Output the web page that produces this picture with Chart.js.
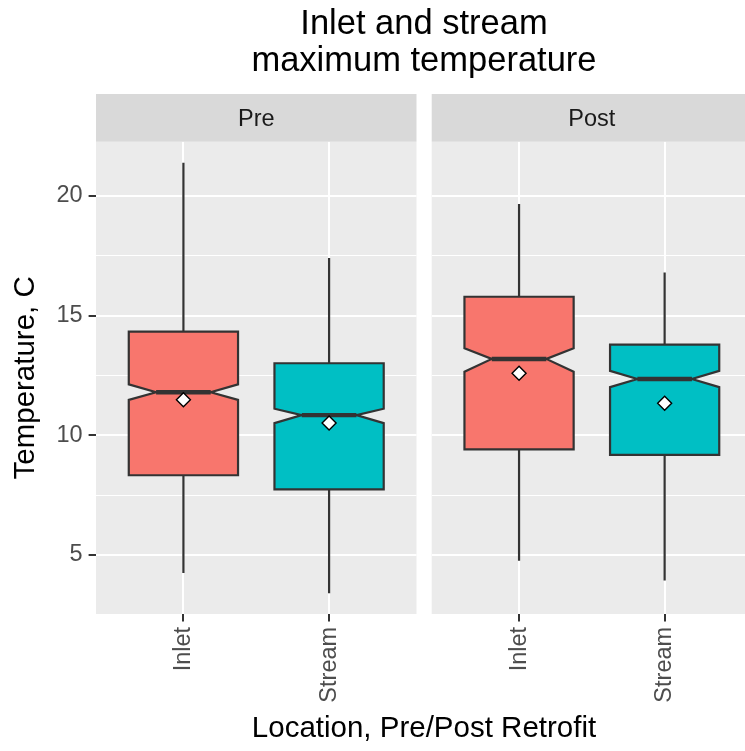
<!DOCTYPE html>
<html>
<head>
<meta charset="utf-8">
<title>Inlet and stream maximum temperature</title>
<script src="https://cdn.jsdelivr.net/npm/chart.js@4"></script>
<style>
  html, body { margin: 0; padding: 0; background: #fff; }
  #wrap { position: relative; width: 745px; height: 751px; overflow: hidden; font-family: 'Liberation Sans', Arial, sans-serif; }
  #title { position: absolute; left: 96px; width: 656px; top: 4px; text-align: center; font-size: 34.5px; line-height: 37px; color: #000; }
  #xtitle { position: absolute; left: 96px; width: 656px; top: 710px; text-align: center; font-size: 29.5px; line-height: 34px; color: #000; }
  canvas { position: absolute; top: 0; }
  #pre { left: 0; }
  #post { left: 424px; }
</style>
</head>
<body>
<div id="wrap">
  <canvas id="pre" width="424" height="751"></canvas>
  <canvas id="post" width="328" height="751"></canvas>
  <div id="title">Inlet and stream<br>maximum temperature</div>
  <div id="xtitle">Location, Pre/Post Retrofit</div>
</div>
<script>
const locations = ['Inlet', 'Stream'];
const facets = ['Pre', 'Post'];
const yMajorTicks = [5, 10, 15, 20];
const yMinorTicks = [7.5, 12.5, 17.5];

// box stats, each array is [Inlet, Stream]
const preMin = [4.24, 3.40];
const preQ1 = [8.33, 7.74];
const preMedian = [11.80, 10.84];
const preQ3 = [14.33, 13.01];
const preMax = [21.39, 17.41];
const preNotchLo = [11.48, 10.51];
const preNotchHi = [12.13, 11.11];
const preMean = [11.48, 10.51];

const postMin = [4.76, 3.93];
const postQ1 = [9.41, 9.18];
const postMedian = [13.19, 12.35];
const postQ3 = [15.79, 13.79];
const postMax = [19.67, 16.80];
const postNotchLo = [12.66, 12.01];
const postNotchHi = [13.64, 12.69];
const postMean = [12.59, 11.34];

const fillColors = ['#F8766D', '#00BFC4'];
const yMin = 2.53, yMax = 22.27;

Chart.defaults.font.family = "'Liberation Sans', Arial, sans-serif";
Chart.defaults.color = '#4D4D4D';

function boxPlugin(s) {
  return {
    id: 'notchedBoxes',
    beforeDraw(chart) {
      const { ctx, chartArea: a } = chart;
      ctx.save();
      ctx.fillStyle = '#EBEBEB';
      ctx.fillRect(a.left, a.top, a.right - a.left, a.bottom - a.top);
      ctx.restore();
    },
    beforeDatasetsDraw(chart) {
      const { ctx, scales: { x, y } } = chart;
      const py = v => y.getPixelForValue(v);
      ctx.save();
      ctx.strokeStyle = '#333333';
      ctx.lineJoin = 'miter';
      ctx.lineCap = 'butt';
      s.median.forEach((m, i) => {
        const cx = x.getPixelForValue(i + 1);
        const half = x.getPixelForValue(i + 1.375) - cx;
        const nh = half / 2;
        ctx.lineWidth = 2.2;
        // whiskers
        ctx.beginPath();
        ctx.moveTo(cx, py(s.max[i]));
        ctx.lineTo(cx, py(s.q3[i]));
        ctx.moveTo(cx, py(s.q1[i]));
        ctx.lineTo(cx, py(s.min[i]));
        ctx.stroke();
        // notched box
        ctx.beginPath();
        ctx.moveTo(cx - half, py(s.q3[i]));
        ctx.lineTo(cx - half, py(s.notchHi[i]));
        ctx.lineTo(cx - nh, py(m));
        ctx.lineTo(cx - half, py(s.notchLo[i]));
        ctx.lineTo(cx - half, py(s.q1[i]));
        ctx.lineTo(cx + half, py(s.q1[i]));
        ctx.lineTo(cx + half, py(s.notchLo[i]));
        ctx.lineTo(cx + nh, py(m));
        ctx.lineTo(cx + half, py(s.notchHi[i]));
        ctx.lineTo(cx + half, py(s.q3[i]));
        ctx.closePath();
        ctx.fillStyle = fillColors[i];
        ctx.fill();
        ctx.stroke();
        // median
        ctx.lineWidth = 4.4;
        ctx.beginPath();
        ctx.moveTo(cx - nh, py(m));
        ctx.lineTo(cx + nh, py(m));
        ctx.stroke();
      });
      ctx.restore();
    }
  };
}

function makeChart(canvasId, facet, s, first) {
  const isMajor = v => yMajorTicks.includes(v);
  return new Chart(document.getElementById(canvasId), {
    type: 'scatter',
    data: {
      datasets: [{
        data: s.mean.map((v, i) => ({ x: i + 1, y: v })),
        pointStyle: 'rectRot',
        radius: 7,
        backgroundColor: '#FFFFFF',
        borderColor: '#000000',
        borderWidth: 1.4
      }]
    },
    options: {
      responsive: false,
      animation: false,
      events: [],
      layout: { autoPadding: false, padding: { left: 0, right: first ? 7.5 : 0, top: 94, bottom: 37 } },
      plugins: { legend: { display: false }, tooltip: { enabled: false } },
      scales: {
        x: {
          type: 'linear',
          position: 'bottom',
          min: 0.4,
          max: 2.6,
          afterBuildTicks: sc => { sc.ticks = locations.map((l, i) => ({ value: i + 1 })); },
          afterFit: sc => { sc.height = 100; sc.paddingLeft = 0; sc.paddingRight = 0; },
          border: { display: false },
          grid: { color: '#FFFFFF', lineWidth: 2, tickColor: '#333333', tickWidth: 2, tickLength: 7.4 },
          ticks: {
            autoSkip: false,
            minRotation: 90,
            maxRotation: 90,
            padding: 5.5,
            color: '#4D4D4D',
            font: { size: 23.5 },
            callback: (v, i) => locations[i]
          }
        },
        strip: {
          type: 'category',
          axis: 'x',
          position: 'top',
          offset: true,
          labels: [facet],
          backgroundColor: '#D9D9D9',
          afterFit: sc => { sc.height = 47.7; sc.paddingLeft = 0; sc.paddingRight = 0; },
          border: { display: false },
          grid: { display: false, drawTicks: false },
          ticks: { padding: 7.8, color: '#1A1A1A', font: { size: 23.5 } }
        },
        y: {
          type: 'linear',
          min: yMin,
          max: yMax,
          afterBuildTicks: sc => {
            sc.ticks = yMajorTicks.concat(yMinorTicks).sort((a, b) => a - b).map(v => ({ value: v }));
          },
          afterFit: sc => { sc.width = first ? 96 : 7.7; },
          border: { display: false },
          grid: {
            color: '#FFFFFF',
            lineWidth: c => isMajor(c.tick.value) ? 2 : 1,
            drawTicks: first,
            tickLength: 7.4,
            tickWidth: 2,
            tickColor: c => isMajor(c.tick.value) ? '#333333' : 'rgba(0,0,0,0)'
          },
          ticks: {
            display: first,
            padding: 6,
            color: '#4D4D4D',
            font: { size: 23.5 },
            callback: v => isMajor(v) ? String(v) : ''
          },
          title: {
            display: first,
            text: 'Temperature, C',
            color: '#000000',
            font: { size: 29.5 },
            padding: { top: 8, bottom: 0 }
          }
        }
      }
    },
    plugins: [boxPlugin(s)]
  });
}

makeChart('pre', facets[0], {
  min: preMin, q1: preQ1, median: preMedian, q3: preQ3, max: preMax,
  notchLo: preNotchLo, notchHi: preNotchHi, mean: preMean
}, true);

makeChart('post', facets[1], {
  min: postMin, q1: postQ1, median: postMedian, q3: postQ3, max: postMax,
  notchLo: postNotchLo, notchHi: postNotchHi, mean: postMean
}, false);
</script>
</body>
</html>
